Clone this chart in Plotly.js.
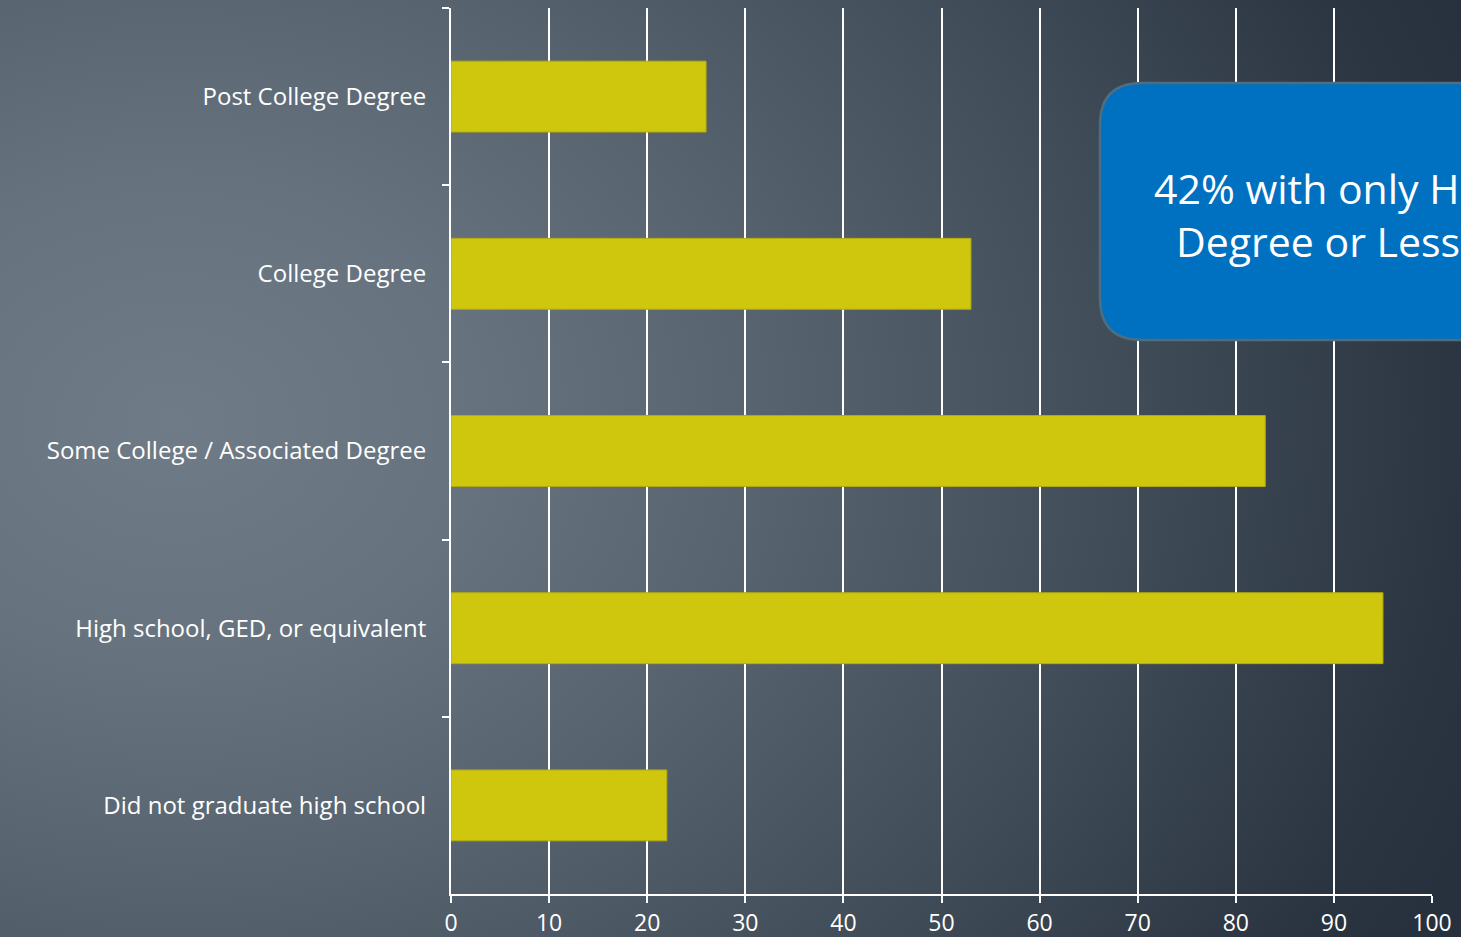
<!DOCTYPE html>
<html>
<head>
<meta charset="utf-8">
<script src="https://cdn.plot.ly/plotly-3.0.1.min.js"></script>
<style>
  html, body { margin: 0; padding: 0; width: 1461px; height: 937px; overflow: hidden; }
  body {
    background: radial-gradient(ellipse 1400px 1100px at 12% 45%, #6f7c87 0%, #66737e 22%, #57636e 42%, #404c58 68%, #2a3541 92%, #26313d 100%);
  }
  #chart { width: 1461px; height: 937px; }
</style>
</head>
<body>
<div id="chart"></div>
<script>
// Categories listed top to bottom
const categories = [
  "Post College Degree",
  "College Degree",
  "Some College / Associated Degree",
  "High school, GED, or equivalent",
  "Did not graduate high school"
];
const values = [26, 53, 83, 95, 22];
const xTicks = [0, 10, 20, 30, 40, 50, 60, 70, 80, 90, 100];
const calloutText = "42% with only HS<br>Degree or Less";

const FONT = "'Open Sans', Lato, 'DejaVu Sans', sans-serif";

const trace = {
  type: "bar",
  orientation: "h",
  x: values,
  y: categories,
  width: 0.4,
  marker: { color: "#cfc70d", line: { color: "#b3ac0c", width: 1 } },
  hoverinfo: "skip"
};

// callout box geometry in paper units
const pw = 981, ph = 886;
const bx0 = (1100 - 451) / pw, bx1 = 1.25;
const by0 = (894 - 340) / ph, by1 = (894 - 83) / ph;
const rx = 42 / pw, ry = 42 / ph;
const boxPath =
  `M ${bx0 + rx} ${by1} L ${bx1} ${by1} L ${bx1} ${by0} L ${bx0 + rx} ${by0} ` +
  `Q ${bx0} ${by0} ${bx0} ${by0 + ry} L ${bx0} ${by1 - ry} Q ${bx0} ${by1} ${bx0 + rx} ${by1} Z`;

const layout = {
  width: 1461,
  height: 937,
  paper_bgcolor: "rgba(0,0,0,0)",
  plot_bgcolor: "rgba(0,0,0,0)",
  margin: { l: 451, r: 29, t: 8, b: 43 },
  showlegend: false,
  font: { family: FONT, color: "#ffffff", size: 23 },
  bargap: 0.6,
  xaxis: {
    range: [0, 100],
    tickvals: xTicks,
    ticktext: xTicks.map(String),
    showgrid: true,
    gridcolor: "#ffffff",
    gridwidth: 2,
    zeroline: false,
    showline: true,
    linecolor: "#ffffff",
    linewidth: 2,
    ticks: "outside",
    ticklen: 7,
    tickwidth: 2,
    tickcolor: "#ffffff",
    ticklabelstandoff: 0,
    tickfont: { family: FONT, color: "#ffffff", size: 23 },
    fixedrange: true
  },
  yaxis: {
    type: "category",
    categoryorder: "array",
    categoryarray: categories,
    autorange: "reversed",
    showgrid: false,
    zeroline: false,
    showline: true,
    linecolor: "#ffffff",
    linewidth: 2,
    ticks: "outside",
    tickson: "boundaries",
    ticklen: 7,
    tickwidth: 2,
    tickcolor: "#ffffff",
    ticklabelstandoff: 18,
    tickfont: { family: FONT, color: "#ffffff", size: 24 },
    fixedrange: true
  },
  shapes: [
    {
      type: "path",
      xref: "paper",
      yref: "paper",
      path: boxPath,
      fillcolor: "#0070c0",
      line: { color: "#4d6e80", width: 2.5 },
      layer: "above"
    }
  ],
  annotations: [
    {
      xref: "paper",
      yref: "paper",
      x: (1152 - 451) / pw,
      y: (894 - 215) / ph,
      xanchor: "left",
      yanchor: "middle",
      align: "center",
      showarrow: false,
      text: calloutText,
      font: { family: FONT, color: "#ffffff", size: 41 }
    }
  ]
};

Plotly.newPlot("chart", [trace], layout, { displayModeBar: false, staticPlot: true });
</script>
</body>
</html>
